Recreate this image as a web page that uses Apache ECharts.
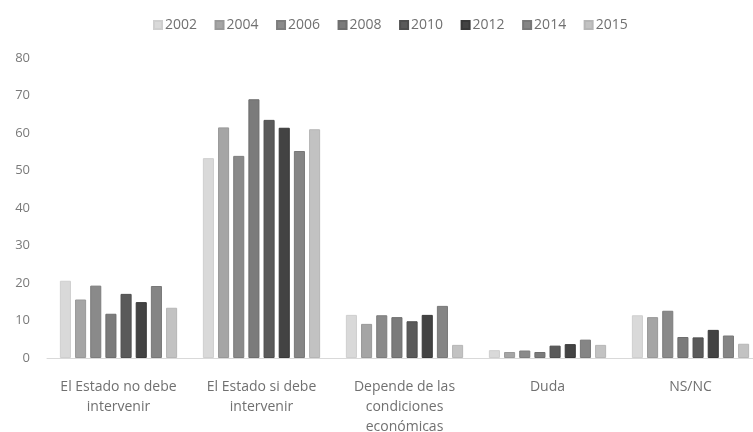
<!DOCTYPE html>
<html>
<head>
<meta charset="utf-8">
<script src="https://cdn.jsdelivr.net/npm/echarts@6/dist/echarts.min.js"></script>
<style>
  html, body { margin: 0; padding: 0; background: #ffffff; }
  #chart { width: 753px; height: 432px; }
</style>
</head>
<body>
<div id="chart"></div>
<script>
// Respuestas por categoría y año de encuesta (%)
const categories = [
  'El Estado no debe\nintervenir',
  'El Estado si debe\nintervenir',
  'Depende de las\ncondiciones\neconómicas',
  'Duda',
  'NS/NC'
];
const years = ['2002', '2004', '2006', '2008', '2010', '2012', '2014', '2015'];

const v2002 = [20.6, 53.3, 11.5, 2.1, 11.4];
const v2004 = [15.6, 61.5, 9.1, 1.6, 10.9];
const v2006 = [19.3, 53.9, 11.4, 2.0, 12.6];
const v2008 = [11.8, 69.0, 10.9, 1.6, 5.6];
const v2010 = [17.1, 63.5, 9.8, 3.3, 5.5];
const v2012 = [14.9, 61.4, 11.5, 3.7, 7.5];
const v2014 = [19.2, 55.2, 13.9, 4.9, 6.0];
const v2015 = [13.4, 61.0, 3.5, 3.5, 3.8];

const yearValues = [v2002, v2004, v2006, v2008, v2010, v2012, v2014, v2015];
const yTicks = [0, 10, 20, 30, 40, 50, 60, 70, 80];

const fills = ['#d9d9d9', '#a5a5a5', '#8a8a8a', '#7b7b7b', '#5a5a5a', '#434343', '#858585', '#c2c2c2'];
const edges = ['#cfcfcf', '#999999', '#7d7d7d', '#6e6e6e', '#4e4e4e', '#383838', '#787878', '#b6b6b6'];

const font = '"Open Sans", "Liberation Sans", sans-serif';

const chart = echarts.init(document.getElementById('chart'), null, { renderer: 'canvas' });

chart.setOption({
  animation: false,
  backgroundColor: '#ffffff',
  legend: {
    top: 13,
    left: 148,
    itemWidth: 8,
    itemHeight: 8,
    itemGap: 17.5,
    icon: 'rect',
    textStyle: { fontFamily: font, fontSize: 14, color: '#707070', padding: [0, 0, 0, -2] },
    data: years
  },
  grid: { left: 47, top: 58, width: 715, height: 300, outerBoundsMode: 'none', containLabel: false },
  xAxis: {
    type: 'category',
    data: categories,
    axisLine: { lineStyle: { color: '#d9d9d9', width: 1 } },
    axisTick: { show: false },
    axisLabel: {
      fontFamily: font,
      fontSize: 14,
      color: '#707070',
      lineHeight: 20,
      margin: 19,
      interval: 0
    }
  },
  yAxis: {
    type: 'value',
    min: yTicks[0],
    max: yTicks[yTicks.length - 1],
    interval: 10,
    axisLine: { show: false },
    axisTick: { show: false },
    splitLine: { show: false },
    axisLabel: { fontFamily: font, fontSize: 13, color: '#7a7a7a', margin: 17 }
  },
  series: years.map((y, i) => ({
    name: y,
    type: 'bar',
    data: yearValues[i],
    barGap: '37%',
    barCategoryGap: '18%',
    itemStyle: { color: fills[i], borderColor: edges[i], borderWidth: 1 }
  }))
});
</script>
</body>
</html>
